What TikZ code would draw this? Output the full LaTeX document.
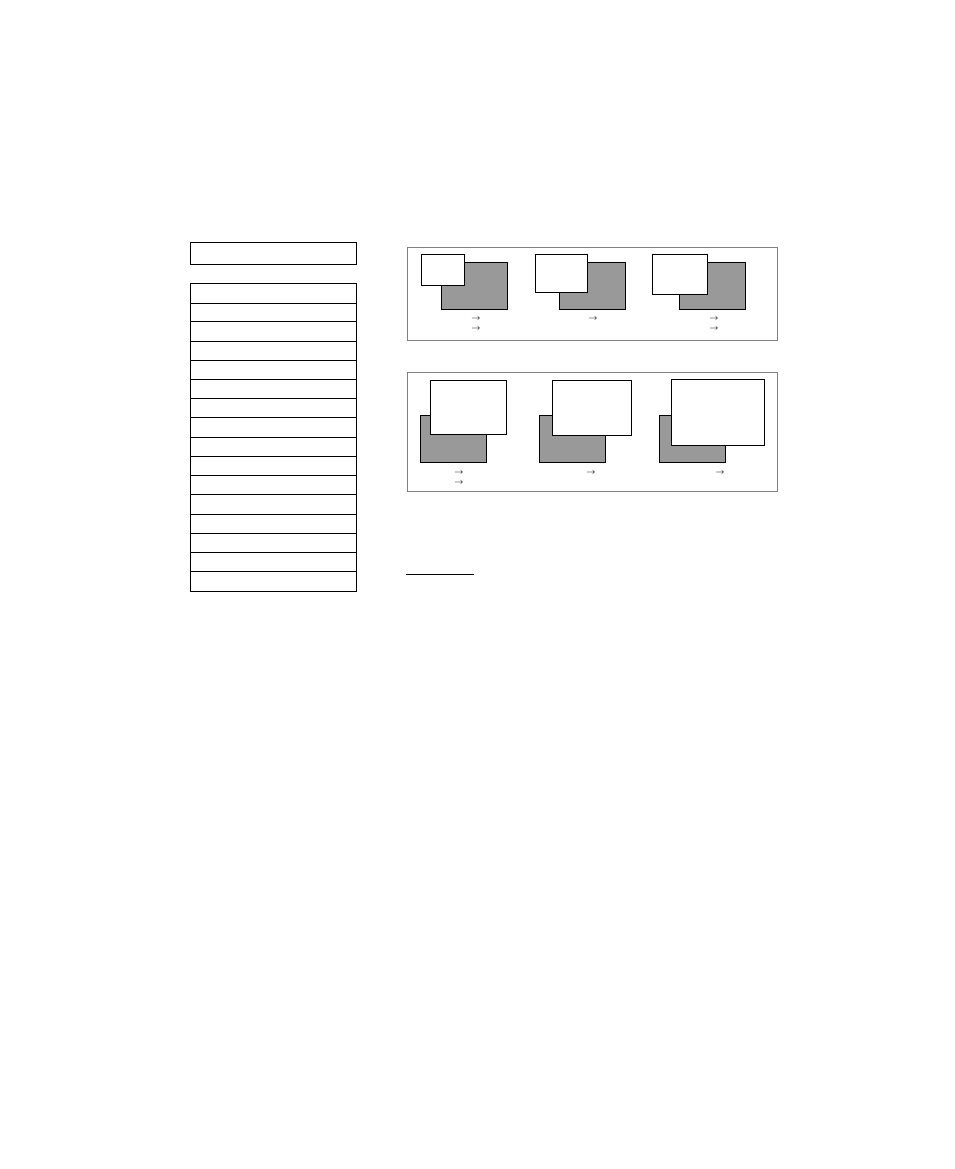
\documentclass[tikz,border=0pt]{standalone}
\usepackage{amsmath, amssymb}
\usepackage{tikz}

\definecolor{shadegray}{RGB}{153,153,153}
\definecolor{framegray}{RGB}{128,128,128}

\begin{document}
\begin{tikzpicture}[x=0.75pt,y=-0.75pt,
    box/.style={draw=black,line width=0.75pt},
    shadebox/.style={box,fill=shadegray},
    framebox/.style={draw=framegray,line width=0.6pt},
    arrowmark/.style={inner sep=0pt,font=\fontsize{6.5}{7}\selectfont}]
    \useasboundingbox (0,0) rectangle (954,1169);

    % left column: header box and table
    \draw[box] (190,243) rectangle (356,265);
    \draw[box] (190,283.3) rectangle (356,591.3);
    \foreach \y in {303.3,321.3,341.3,360.3,379.3,398.3,417.3,437.3,
                    456.3,475.3,494.3,514.3,533.3,552.3,571.3}{
        \draw[box] (190,\y) -- (356,\y);
    }

    % top panel
    \draw[framebox] (407.5,247) rectangle (777.5,340);
    \foreach \gx/\wx/\wr/\wb in {441.3/421/464.3/286, 559.3/535/587.3/292.3, 679.3/652.3/707.3/294.3}{
        \draw[shadebox] (\gx,262.3) rectangle ++(66,47); % gray back
        \draw[box,fill=white] (\wx,255) rectangle (\wr,\wb); % white front
    }

    % bottom panel
    \draw[framebox] (407.5,372) rectangle (777.5,491.7);
    \foreach \gx/\wx/\wr/\wt/\wb in {420.3/430.3/506.3/380/434.3, 539.3/552.3/631.7/380/435.3, 659.3/671.3/764.3/379/445.3}{
        \draw[shadebox] (\gx,415) rectangle ++(66.4,47.3); % gray back
        \draw[box,fill=white] (\wx,\wt) rectangle (\wr,\wb); % white front
    }

    % small arrows under the pictures
    \node[arrowmark] (ta1) at (476,319) {$\rightarrow$};
    \node[arrowmark] (ta2) at (476,329.3) {$\rightarrow$};
    \node[arrowmark] (tb1) at (593,319) {$\rightarrow$};
    \node[arrowmark] (tc1) at (714,319) {$\rightarrow$};
    \node[arrowmark] (tc2) at (714,329.3) {$\rightarrow$};
    \node[arrowmark] (ba1) at (459,472.7) {$\rightarrow$};
    \node[arrowmark] (ba2) at (459,482.7) {$\rightarrow$};
    \node[arrowmark] (bb1) at (591,472.7) {$\rightarrow$};
    \node[arrowmark] (bc1) at (720,472.7) {$\rightarrow$};

    % short rule
    \coordinate (ruleL) at (406,574.3);
    \coordinate (ruleR) at (474,574.3);
    \draw[line width=0.75pt] (ruleL) -- (ruleR);
\end{tikzpicture}
\end{document}
